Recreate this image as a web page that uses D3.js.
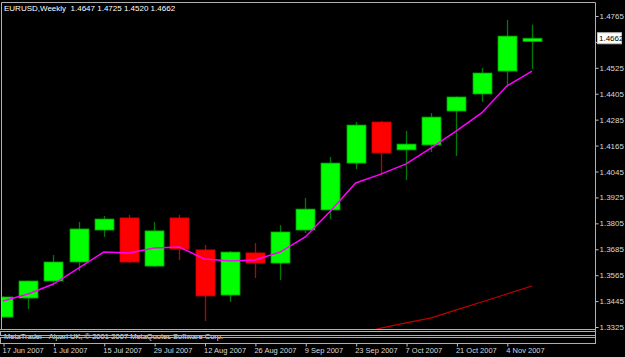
<!DOCTYPE html>
<html>
<head>
<meta charset="utf-8">
<script src="https://cdn.jsdelivr.net/npm/d3@7"></script>
<style>
    html, body { margin: 0; padding: 0; background: #000; }
    svg { display: block; font-family: "Liberation Sans", Arial, sans-serif; }
</style>
</head>
<body>
<div id="chart"></div>
<script>
        // Weekly EURUSD bars
        const weeks = ["2007-06-17", "2007-06-24", "2007-07-01", "2007-07-08", "2007-07-15", "2007-07-22",
            "2007-07-29", "2007-08-05", "2007-08-12", "2007-08-19", "2007-08-26", "2007-09-02",
            "2007-09-09", "2007-09-16", "2007-09-23", "2007-09-30", "2007-10-07", "2007-10-14",
            "2007-10-21", "2007-10-28", "2007-11-04", "2007-11-11"];
        const open  = [1.3371, 1.3459, 1.3538, 1.3626, 1.3774, 1.3830, 1.3607, 1.3830, 1.3682, 1.3473, 1.3668,
            1.3621, 1.3774, 1.3867, 1.4084, 1.4274, 1.4145, 1.4168, 1.4325, 1.4404, 1.4510, 1.4647];
        const high  = [1.3466, 1.3540, 1.3658, 1.3811, 1.3839, 1.3844, 1.3811, 1.3844, 1.3705, 1.3677, 1.3714,
            1.3797, 1.3922, 1.4112, 1.4274, 1.4279, 1.4233, 1.4316, 1.4392, 1.4524, 1.4747, 1.4725];
        const low   = [1.3368, 1.3408, 1.3529, 1.3584, 1.3742, 1.3621, 1.3603, 1.3635, 1.3353, 1.3441, 1.3552,
            1.3543, 1.3760, 1.3825, 1.4056, 1.4029, 1.4006, 1.4135, 1.4117, 1.4367, 1.4436, 1.4520];
        const close = [1.3464, 1.3538, 1.3626, 1.3779, 1.3825, 1.3626, 1.3770, 1.3686, 1.3469, 1.3672, 1.3621,
            1.3765, 1.3871, 1.4084, 1.4260, 1.4131, 1.4172, 1.4297, 1.4390, 1.4501, 1.4672, 1.4662];

        // Moving averages (magenta = fast, dark red = slow)
        const maFast = [1.3445, 1.3478, 1.3524, 1.3598, 1.3672, 1.3668, 1.3691, 1.3695, 1.3640, 1.3631, 1.3635,
            1.3672, 1.3742, 1.3862, 1.3992, 1.4033, 1.4080, 1.4154, 1.4233, 1.4316, 1.4441, 1.4510];
        const maSlow = [null, null, null, null, null, null, null, null, null, null, null,
            null, null, null, 1.3290, 1.3320, 1.3344, 1.3367, 1.3404, 1.3441, 1.3478, 1.3515];

        // Axis labels
        const priceTicks = [1.3325, 1.3445, 1.3565, 1.3685, 1.3805, 1.3925, 1.4045, 1.4165, 1.4285,
            1.4405, 1.4525, 1.4645, 1.4765];
        const dateTicks = ["2007-06-17", "2007-07-01", "2007-07-15", "2007-07-29", "2007-08-12", "2007-08-26",
            "2007-09-09", "2007-09-23", "2007-10-07", "2007-10-21", "2007-11-04"];

        const symbolTitle = "EURUSD,Weekly  1.4647 1.4725 1.4520 1.4662";
        const copyright = "MetaTrader - Alpari UK, \u00a9 2001-2007 MetaQuotes Software Corp.";
        const lastPrice = 1.4662;

        const width = 625;
        const height = 357;
        const parse = d3.timeParse("%Y-%m-%d");
        const fmt = d3.format(".4f");

        const bars = weeks.map((w, i) => ({
            date: parse(w), o: open[i], h: high[i], l: low[i], c: close[i]
        }));

        const svg = d3.select("#chart")
            .append("svg")
            .attr("width", width)
            .attr("height", height);

        svg.append("rect").attr("width", width).attr("height", height).attr("fill", "#000");

        const x = d3.scaleTime()
            .domain([parse(weeks[0]), parse(weeks[weeks.length - 1])])
            .range([3, 532]);
        const y = d3.scaleLinear()
            .domain([1.3325, 1.4765])
            .range([327, 16]);

        // clip to main window
        svg.append("clipPath").attr("id", "plot")
            .append("rect").attr("x", 2).attr("y", 3).attr("width", 593).attr("height", 326);

        const plot = svg.append("g").attr("clip-path", "url(#plot)");

        // slow MA
        plot.append("path")
            .datum(bars.map((b, i) => ({ date: b.date, v: maSlow[i] })).filter(d => d.v !== null))
            .attr("fill", "none")
            .attr("stroke", "#c00000")
            .attr("stroke-width", 1.2)
            .attr("d", d3.line().x(d => x(d.date)).y(d => y(d.v)));

        // candles
        const candle = plot.append("g")
            .selectAll("g")
            .data(bars)
            .enter()
            .append("g");

        candle.append("line")
            .attr("x1", d => Math.round(x(d.date)) + 0.5)
            .attr("x2", d => Math.round(x(d.date)) + 0.5)
            .attr("y1", d => y(d.h))
            .attr("y2", d => y(d.l))
            .attr("stroke", d => d.c >= d.o ? "#007a00" : "#c00000")
            .attr("stroke-width", 1.3);

        candle.append("rect")
            .attr("x", d => Math.round(x(d.date)) - 9)
            .attr("width", 19)
            .attr("y", d => y(Math.max(d.o, d.c)))
            .attr("height", d => Math.max(2, Math.abs(y(d.o) - y(d.c))))
            .attr("fill", d => d.c >= d.o ? "#00ff00" : "#ff0000")
            .attr("stroke", d => d.c >= d.o ? "#00a000" : "#d00000")
            .attr("stroke-width", 0.8);

        // fast MA
        plot.append("path")
            .datum(bars.map((b, i) => ({ date: b.date, v: maFast[i] })))
            .attr("fill", "none")
            .attr("stroke", "#ff00ff")
            .attr("stroke-width", 1.5)
            .attr("d", d3.line().x(d => x(d.date)).y(d => y(d.v)));

        // title
        svg.append("text")
            .attr("x", 4)
            .attr("y", 11)
            .attr("fill", "#fff")
            .attr("font-size", "8px")
            .style("white-space", "pre")
            .text(symbolTitle);

        // right price axis (the label under the current price box is hidden, as in MT4)
        const yAxis = svg.append("g")
            .attr("transform", "translate(595.5,0)")
            .call(d3.axisRight(y).tickValues(priceTicks)
                .tickFormat(v => Math.abs(v - lastPrice) < 0.004 ? "" : fmt(v))
                .tickSize(3).tickSizeOuter(0));
        yAxis.select(".domain").remove();
        yAxis.selectAll("line").attr("stroke", "#c0c0c0");
        yAxis.selectAll("text")
            .attr("x", 4)
            .attr("fill", "#d8d8d8")
            .attr("font-size", "8px")
            .attr("font-family", "Liberation Sans, Arial, sans-serif");

        // current price label
        svg.append("rect")
            .attr("x", 597.5).attr("y", y(lastPrice) - 5.5)
            .attr("width", 24).attr("height", 11)
            .attr("fill", "#fff").attr("stroke", "#c0c0c0");
        svg.append("text")
            .attr("x", 599).attr("y", y(lastPrice) + 3)
            .attr("fill", "#000")
            .attr("font-size", "8px")
            .text(fmt(lastPrice));

        // copyright text in the squashed sub-window
        svg.append("text")
            .attr("x", 4)
            .attr("y", 339)
            .attr("fill", "#e0e0e0")
            .attr("font-size", "7.5px")
            .text(copyright);

        // window frames
        const frame = svg.append("g").attr("fill", "none").attr("stroke", "#b0b0b0").attr("stroke-width", 1);
        frame.append("path").attr("d", "M1.5,329.5 V2.5 H595.5 V343.5");
        frame.append("line").attr("x1", 0).attr("x2", 595.5).attr("y1", 329.5).attr("y2", 329.5);
        frame.append("rect").attr("x", 0.5).attr("y", 331.5).attr("width", 595).attr("height", 4);
        frame.append("rect").attr("x", 0.5).attr("y", 337.5).attr("width", 595).attr("height", 6);

        // bottom date axis
        const xAxis = svg.append("g")
            .attr("transform", "translate(0,343.5)")
            .call(d3.axisBottom(x).tickValues(dateTicks.map(parse))
                .tickFormat(d3.timeFormat("%-d %b %Y")).tickSize(3).tickSizeOuter(0));
        xAxis.select(".domain").remove();
        xAxis.selectAll("line").attr("stroke", "#c0c0c0").attr("transform", "translate(0.5,0)");
        xAxis.selectAll("text")
            .attr("text-anchor", "start")
            .attr("x", -1)
            .attr("y", 4)
            .attr("dy", "0.71em")
            .attr("fill", "#d8d8d8")
            .attr("font-size", "7.5px")
            .attr("font-family", "Liberation Sans, Arial, sans-serif");
</script>
</body>
</html>
